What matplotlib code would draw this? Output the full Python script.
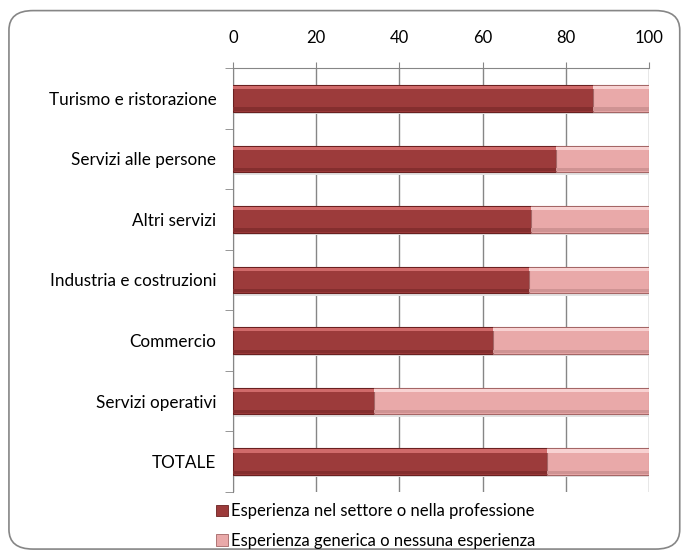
import matplotlib
matplotlib.use("Agg")
import matplotlib.pyplot as plt
from matplotlib.patches import FancyBboxPatch, Patch
import numpy as np

categories = ["Turismo e ristorazione", "Servizi alle persone", "Altri servizi",
              "Industria e costruzioni", "Commercio", "Servizi operativi", "TOTALE"]
settore = [86.5, 77.6, 71.6, 71.2, 62.4, 33.9, 75.4]
generica = [13.5, 22.4, 28.4, 28.8, 37.6, 66.1, 24.6]
series_labels = ["Esperienza nel settore o nella professione",
                 "Esperienza generica o nessuna esperienza"]
xticks = [0, 20, 40, 60, 80, 100]

plt.rcParams['font.family'] = ['Lato', 'DejaVu Sans']
plt.rcParams['font.size'] = 12

dark = "#9c3b3b"
light = "#e9a9a9"

fig = plt.figure(figsize=(6.88, 5.58), dpi=100)
ax = fig.add_axes([0.3387, 0.1183, 0.6047, 0.7599])

# rounded frame around the whole chart
frame = FancyBboxPatch((0.013, 0.016), 0.975, 0.965, boxstyle="round,pad=0,rounding_size=0.035",
                       transform=fig.transFigure, facecolor="white", edgecolor="#868686",
                       linewidth=1.2, zorder=-10)
fig.patches.append(frame)

y = np.arange(len(categories))
h = 0.44
tot = [a + b for a, b in zip(settore, generica)]
# soft shadow under the bars
ax.barh(y + 0.04, tot, height=h, color="#e2e2e2", linewidth=0, zorder=2)
ax.barh(y, settore, height=h, color=dark, edgecolor="#6a2020", linewidth=0.8, zorder=3)
ax.barh(y, generica, left=settore, height=h, color=light, edgecolor="#a46666", linewidth=0.8, zorder=3)
# bevel: light strip at the top, darker strip at the bottom
ax.barh(y - h * 0.40, settore, height=h * 0.12, color="#d06a6a", linewidth=0, zorder=4)
ax.barh(y - h * 0.40, generica, left=settore, height=h * 0.12, color="#f8d2d2", linewidth=0, zorder=4)
ax.barh(y + h * 0.40, settore, height=h * 0.12, color="#842e2e", linewidth=0, zorder=4)
ax.barh(y + h * 0.40, generica, left=settore, height=h * 0.12, color="#cf9393", linewidth=0, zorder=4)

ax.set_xlim(0, 100)
ax.set_ylim(len(categories) - 0.5, -0.5)
ax.xaxis.tick_top()
ax.set_xticks(xticks)
ax.tick_params(axis='x', direction='out', length=4, color="#868686", pad=12, labelsize=12)
ax.grid(axis='x', color="#868686", linewidth=1, zorder=0)

ax.set_yticks(y)
ax.set_yticklabels(categories)
ax.set_yticks(np.arange(len(categories) + 1) - 0.5, minor=True)
ax.tick_params(axis='y', which='major', length=0, pad=12, labelsize=12.3)
ax.tick_params(axis='y', which='minor', length=6, color="#868686")

for s in ["right", "bottom"]:
    ax.spines[s].set_visible(False)
for s in ["left", "top"]:
    ax.spines[s].set_color("#868686")

handles = [Patch(facecolor=dark, edgecolor="#6a2020", linewidth=0.6),
           Patch(facecolor=light, edgecolor="#a46666", linewidth=0.6)]
fig.legend(handles, series_labels, loc="center left", bbox_to_anchor=(0.302, 0.0575),
           frameon=False, borderpad=0, handlelength=0.7, handleheight=0.7,
           handletextpad=0.2, labelspacing=0.8, fontsize=12)

fig.savefig("out.png", dpi=100)
